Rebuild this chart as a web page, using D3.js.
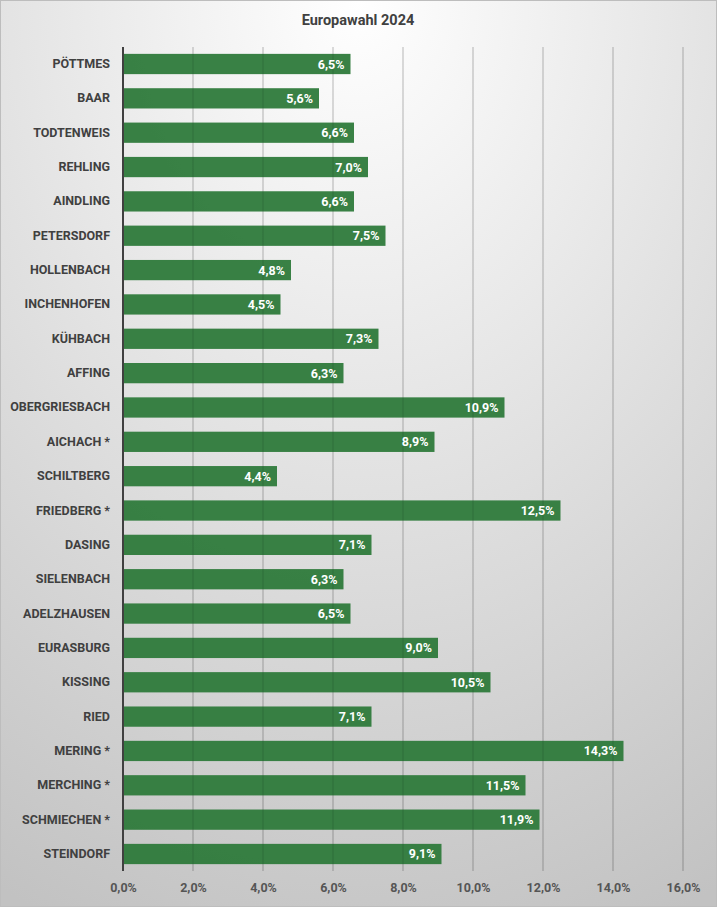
<!DOCTYPE html>
<html><head><meta charset="utf-8">
<script src="https://cdn.jsdelivr.net/npm/d3@7"></script>
<style>
html,body{margin:0;padding:0;background:#fff;}
svg{display:block;}
</style></head>
<body>
<script>
const categories = ["PÖTTMES","BAAR","TODTENWEIS","REHLING","AINDLING","PETERSDORF","HOLLENBACH","INCHENHOFEN","KÜHBACH","AFFING","OBERGRIESBACH","AICHACH *","SCHILTBERG","FRIEDBERG *","DASING","SIELENBACH","ADELZHAUSEN","EURASBURG","KISSING","RIED","MERING *","MERCHING *","SCHMIECHEN *","STEINDORF"];
const values = [6.5,5.6,6.6,7.0,6.6,7.5,4.8,4.5,7.3,6.3,10.9,8.9,4.4,12.5,7.1,6.3,6.5,9.0,10.5,7.1,14.3,11.5,11.9,9.1];
const xTicks = [0,2,4,6,8,10,12,14,16];
const title = "Europawahl 2024";

const W = 717, H = 907;
const fmt = v => v.toFixed(1).replace(".", ",") + "%";
const font = "Roboto,'Noto Sans',sans-serif";

const svg = d3.select("body").append("svg").attr("width", W).attr("height", H);
const defs = svg.append("defs");
const grad = defs.append("radialGradient").attr("id","bg")
  .attr("cx","50%").attr("cy","0%").attr("r","110%").attr("fx","50%").attr("fy","0%");
grad.append("stop").attr("offset","0%").attr("stop-color","#ffffff");
grad.append("stop").attr("offset","100%").attr("stop-color","#c2c2c2");

svg.append("rect").attr("x",0.5).attr("y",0.5).attr("width",W-1).attr("height",H-1)
  .attr("fill","url(#bg)").attr("stroke","#bdbdbd").attr("stroke-width",1);

const x = d3.scaleLinear().domain([0,16]).range([123,683]);
const y = d3.scaleBand().domain(categories).range([47,871]).paddingInner(0.41).paddingOuter(0.2);

svg.append("text").attr("x", 358).attr("y", 25).attr("text-anchor","middle")
  .attr("font-family",font).attr("font-weight","bold").attr("font-size",14.5)
  .attr("fill","#404040").text(title);

// gridlines
svg.append("g").selectAll("line").data(xTicks.filter(d=>d>0)).join("line")
  .attr("x1",d=>x(d)).attr("x2",d=>x(d)).attr("y1",47).attr("y2",871)
  .attr("stroke","#000").attr("stroke-opacity",0.16).attr("stroke-width",1);

// bars
svg.append("g").selectAll("rect").data(values).join("rect")
  .attr("x",x(0)).attr("y",(d,i)=>y(categories[i]))
  .attr("width",d=>x(d)-x(0)).attr("height",y.bandwidth())
  .attr("fill","#2e7a3b").attr("fill-opacity",0.95);

// gridlines over bars (faint)
svg.append("g").selectAll("line").data(xTicks.filter(d=>d>0)).join("line")
  .attr("x1",d=>x(d)).attr("x2",d=>x(d)).attr("y1",47).attr("y2",871)
  .attr("stroke","#000").attr("stroke-opacity",0.12).attr("stroke-width",1);

// value labels
svg.append("g").selectAll("text").data(values).join("text")
  .attr("x",d=>x(d)-6).attr("y",(d,i)=>y(categories[i])+y.bandwidth()/2)
  .attr("dy","0.36em").attr("text-anchor","end")
  .attr("font-family",font).attr("font-weight","bold").attr("font-size",12.5)
  .attr("fill","#ffffff").text(d=>fmt(d));

// y axis
const ya = svg.append("g").attr("transform",`translate(${x(0)},0)`)
  .call(d3.axisLeft(y).tickSize(0).tickPadding(13));
ya.select(".domain").attr("stroke","#404040").attr("stroke-width",2).attr("d",`M0,47V871`);
ya.selectAll("text").attr("font-family",font).attr("font-weight","bold").attr("font-size",12.5).attr("fill","#404040");

// x axis
const xa = svg.append("g").attr("transform",`translate(0,871)`)
  .call(d3.axisBottom(x).tickValues(xTicks).tickFormat(fmt).tickSize(0).tickPadding(12));
xa.select(".domain").remove();
xa.selectAll("text").attr("font-family",font).attr("font-weight","bold").attr("font-size",12.5).attr("fill","#555555");
</script>
</body></html>
